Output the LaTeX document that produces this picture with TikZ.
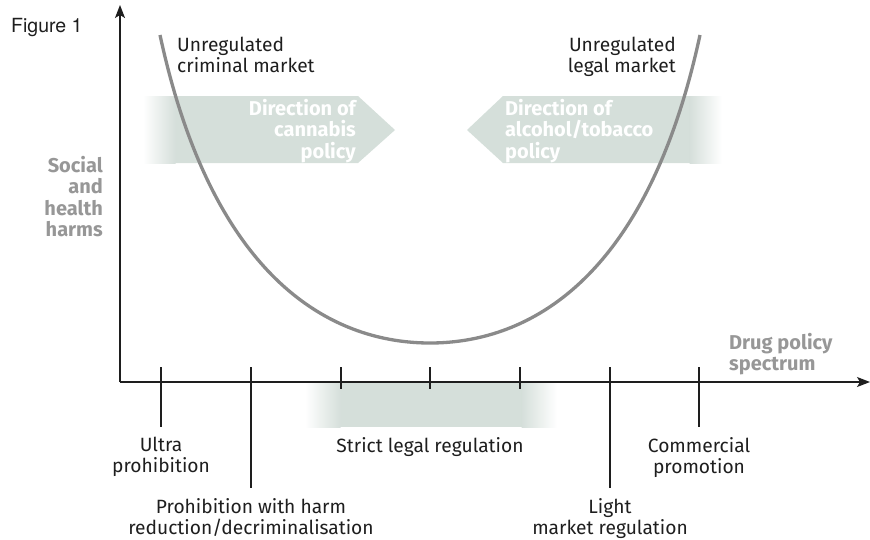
\documentclass[tikz,border=0pt]{standalone}
\usepackage{fontspec}
\setmainfont{Fira Sans}
\newfontfamily\figfont{TeX Gyre Heros}
\usetikzlibrary{arrows.meta,positioning}
\definecolor{curvegrey}{HTML}{8A8A8A}
\definecolor{labelgrey}{HTML}{979797}
\definecolor{bandgreen}{HTML}{D5DFDA}
\definecolor{ink}{HTML}{1E1E1E}

\begin{document}
\begin{tikzpicture}[x=1pt,y=-1pt,node distance=10pt,
    axis/.style={line width=1.3pt,ink,-{Stealth[length=13pt,width=10pt,inset=3pt]}},
    tick/.style={line width=1.1pt,ink},
    harm/.style={line width=3.3pt,curvegrey},
    lbl/.style={font=\fontsize{19.2}{21}\selectfont,text=ink,align=center,inner sep=0pt},
    axlbl/.style={font=\fontsize{20}{21.3}\selectfont\bfseries,text=labelgrey,inner sep=0pt},
    dirlbl/.style={font=\fontsize{20}{21.3}\selectfont\bfseries,text=white,inner sep=0pt}]
  \useasboundingbox (0,0) rectangle (870,539);

  % shaded bands
  \fill[bandgreen] (175,96) -- (358,96) -- (395,130) -- (358,163) -- (175,163) -- cycle;
  \shade[left color=white,right color=bandgreen] (143,96) rectangle (175.5,163);
  \fill[bandgreen] (690,96) -- (503,96) -- (467,130) -- (503,163) -- (690,163) -- cycle;
  \shade[left color=bandgreen,right color=white] (689.5,96) rectangle (722,163);
  \fill[bandgreen] (340,382) rectangle (522,427);
  \shade[left color=white,right color=bandgreen] (305,382) rectangle (340.5,427);
  \shade[left color=bandgreen,right color=white] (521.5,382) rectangle (557,427);

  % axes
  \coordinate (O) at (120,382);
  \coordinate (ytip) at (120,5);
  \coordinate (xtip) at (870,382);
  \draw[axis] (O) -- (ytip);
  \draw[axis] (O) -- (xtip);

  % ticks
  \foreach \name/\x/\len in {ultra/161/427, harmred/251/488, strictA/341/389,
      strictB/430/389, strictC/520/389, light/610/488, commerce/699/427} {
    \coordinate (\name top) at (\x,367);
    \coordinate (\name end) at (\x,\len);
    \draw[tick] (\name top) -- (\name end);
  }
  \coordinate (strictband) at (430,427);

  % harm curve
  \coordinate (crim) at (160,35);
  \coordinate (low) at (430,343);
  \coordinate (legal) at (700,35);
  \draw[harm] (crim) .. controls (215,290) and (340,343) .. (low)
                     .. controls (520,343) and (645,290) .. (legal);

  % labels
  \node[lbl,anchor=base west,font=\figfont\fontsize{19.5}{21}\selectfont] (fig) at (11,32) {Figure 1};
  \node[lbl,align=left,anchor=north west] (crimlbl) at (177,37) {Unregulated\\criminal market};
  \node[lbl,align=right,anchor=north east] (legallbl) at (676,37) {Unregulated\\legal market};
  \node[axlbl,align=right,anchor=north east] (ylbl) at (103,156) {Social\\and\\health\\harms};
  \node[axlbl,align=left,anchor=north west] (xlbl) at (729,333) {Drug policy\\spectrum};
  \node[dirlbl,align=right,anchor=north east] (cannabis) at (356,99) {Direction of\\cannabis\\policy};
  \node[dirlbl,align=left,anchor=north west] (alcohol) at (505,99) {Direction of\\alcohol/tobacco\\policy};

  \node[lbl] (ultralbl) [below=of ultraend] {Ultra\\prohibition};
  \node[lbl] (harmredlbl) [below=of harmredend] {Prohibition with harm\\reduction/decriminalisation};
  \node[lbl] (strictlbl) [below=of strictband] {Strict legal regulation};
  \node[lbl] (lightlbl) [below=of lightend] {Light\\market regulation};
  \node[lbl] (commercelbl) [below=of commerceend] {Commercial\\promotion};
\end{tikzpicture}
\end{document}
